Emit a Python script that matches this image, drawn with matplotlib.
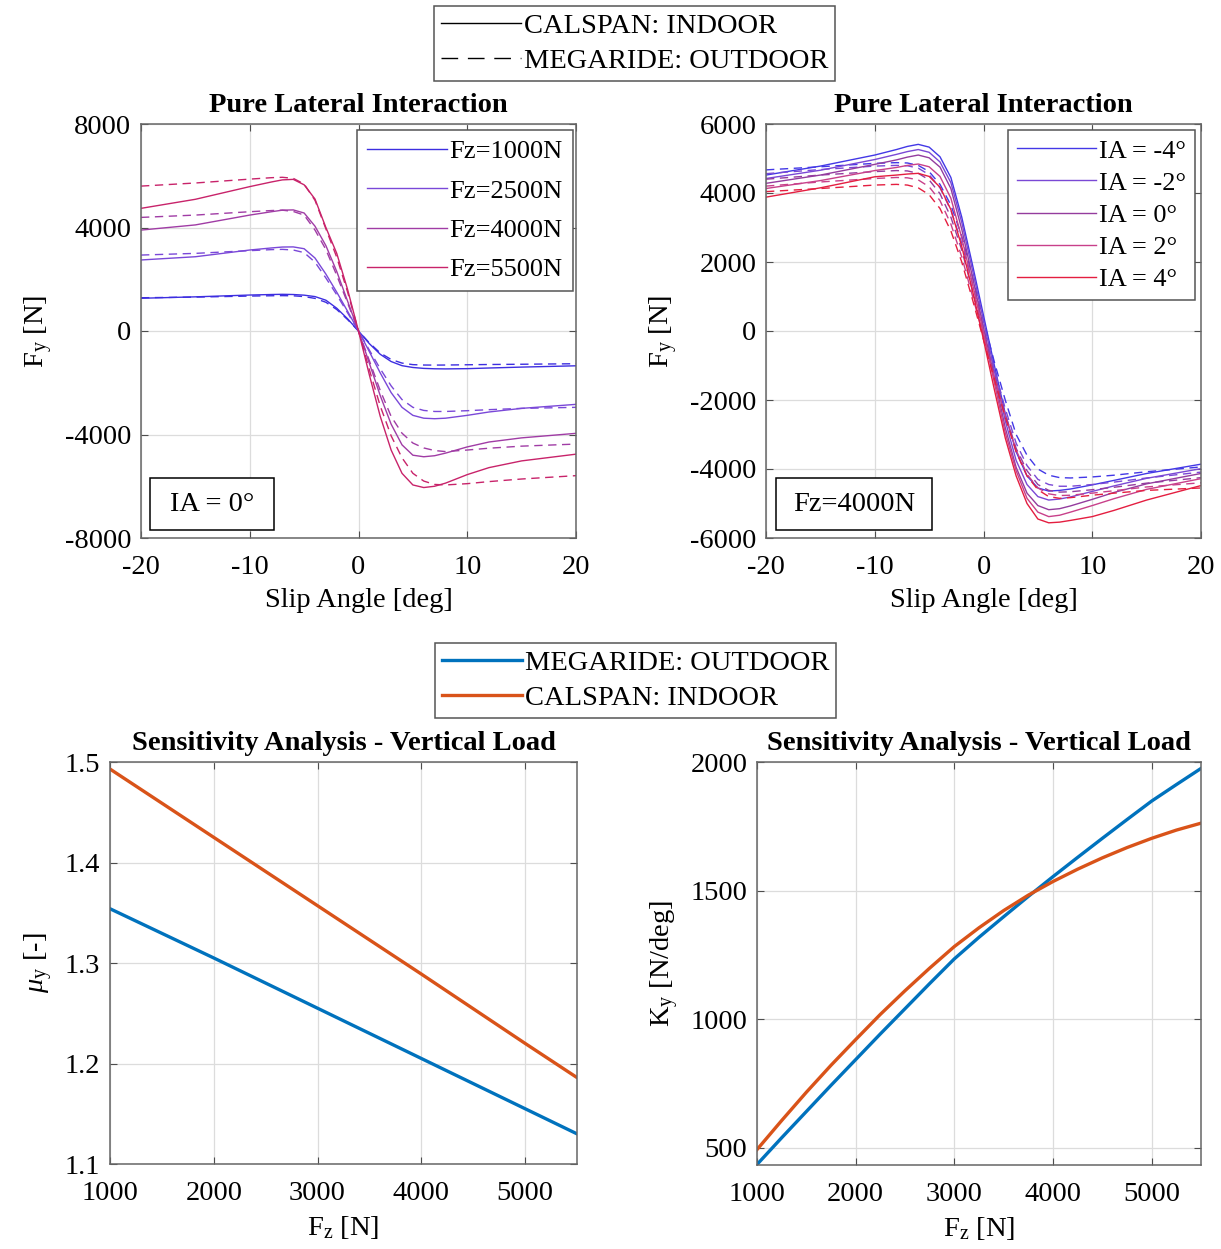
import matplotlib
matplotlib.use('Agg')
import matplotlib.pyplot as plt
from matplotlib.lines import Line2D
from matplotlib.patches import Rectangle

plt.rcParams['font.family'] = ['Liberation Serif', 'DejaVu Serif']
plt.rcParams['mathtext.fontset'] = 'custom'
plt.rcParams['mathtext.rm'] = 'Liberation Serif'
plt.rcParams['mathtext.it'] = 'Liberation Serif:italic'
plt.rcParams['axes.unicode_minus'] = False
FS = 20.5

# ---- data ----
slip = [-20, -15, -10, -8, -7, -6, -5, -4, -3, -2, -1, 0, 1, 2, 3, 4, 5, 6, 7, 8, 10, 12, 15, 20]

# Pure lateral, IA = 0 deg, vertical load sweep (indoor = solid, outdoor = dashed)
fz_labels = ['Fz=1000N', 'Fz=2500N', 'Fz=4000N', 'Fz=5500N']
fy_fz1000_in = [1265, 1320, 1390, 1410, 1418, 1410, 1385, 1330, 1190, 880, 470, 0, -490, -900, -1180, -1340, -1410, -1445, -1460, -1465, -1455, -1430, -1395, -1345]
fy_fz1000_out = [1285, 1310, 1350, 1362, 1366, 1360, 1330, 1260, 1110, 830, 440, 0, -460, -850, -1100, -1240, -1300, -1315, -1318, -1315, -1305, -1295, -1285, -1265]
fy_fz2500_in = [2745, 2870, 3130, 3210, 3245, 3250, 3180, 2820, 2200, 1500, 760, 0, -800, -1620, -2380, -2950, -3260, -3370, -3390, -3370, -3260, -3130, -2990, -2835]
fy_fz2500_out = [2935, 3000, 3105, 3145, 3155, 3130, 3030, 2660, 2050, 1400, 700, 0, -740, -1460, -2120, -2650, -2950, -3070, -3110, -3110, -3080, -3040, -2990, -2950]
fy_fz4000_in = [3900, 4100, 4480, 4610, 4670, 4680, 4560, 4050, 3300, 2300, 1150, 0, -1250, -2500, -3600, -4400, -4800, -4860, -4820, -4720, -4480, -4290, -4130, -3955]
fy_fz4000_out = [4390, 4480, 4610, 4655, 4670, 4620, 4480, 3900, 3150, 2150, 1080, 0, -1150, -2300, -3300, -3950, -4330, -4520, -4620, -4660, -4600, -4530, -4450, -4370]
fy_fz5500_in = [4740, 5090, 5580, 5760, 5840, 5860, 5650, 5100, 4000, 3000, 1600, 0, -1700, -3300, -4600, -5500, -5950, -6050, -6000, -5880, -5550, -5280, -5020, -4760]
fy_fz5500_out = [5600, 5720, 5870, 5925, 5940, 5900, 5680, 5050, 3950, 2850, 1500, 0, -1500, -2900, -4050, -4900, -5500, -5800, -5930, -5950, -5900, -5820, -5720, -5590]

# Pure lateral, Fz = 4000 N, inclination angle sweep
ia_labels = ['IA = -4°', 'IA = -2°', 'IA = 0°', 'IA = 2°', 'IA = 4°']
fy_iam4_in = [4520, 4780, 5100, 5260, 5350, 5410, 5330, 5050, 4450, 3300, 1900, 450, -1000, -2400, -3500, -4200, -4550, -4640, -4620, -4580, -4460, -4330, -4130, -3860]
fy_iam2_in = [4420, 4660, 4970, 5120, 5200, 5260, 5180, 4900, 4300, 3150, 1750, 300, -1150, -2600, -3750, -4450, -4800, -4900, -4870, -4810, -4650, -4490, -4270, -3990]
fy_ia0_in = [4280, 4520, 4830, 4960, 5040, 5100, 5020, 4750, 4130, 2950, 1550, 100, -1350, -2800, -3950, -4700, -5060, -5180, -5150, -5070, -4880, -4680, -4430, -4130]
fy_ia2_in = [4130, 4360, 4650, 4740, 4800, 4840, 4760, 4480, 3850, 2700, 1350, -50, -1500, -2950, -4050, -4850, -5250, -5380, -5340, -5250, -5060, -4860, -4590, -4280]
fy_ia4_in = [3880, 4150, 4470, 4520, 4550, 4570, 4480, 4170, 3520, 2450, 1150, -250, -1700, -3100, -4200, -5000, -5450, -5560, -5540, -5490, -5380, -5200, -4900, -4480]
fy_iam4_out = [4670, 4760, 4860, 4880, 4870, 4800, 4620, 4250, 3650, 2750, 1550, 300, -900, -2000, -3000, -3600, -4000, -4180, -4250, -4260, -4230, -4180, -4080, -3940]
fy_iam2_out = [4560, 4680, 4780, 4800, 4790, 4720, 4530, 4150, 3500, 2550, 1350, 100, -1100, -2250, -3250, -3900, -4300, -4450, -4500, -4500, -4450, -4380, -4260, -4090]
fy_ia0_out = [4400, 4520, 4620, 4650, 4640, 4570, 4380, 3980, 3300, 2350, 1150, -50, -1250, -2400, -3400, -4050, -4450, -4620, -4670, -4660, -4600, -4530, -4410, -4250]
fy_ia2_out = [4200, 4320, 4420, 4450, 4440, 4380, 4180, 3780, 3100, 2150, 1000, -150, -1350, -2450, -3450, -4150, -4550, -4720, -4770, -4760, -4700, -4630, -4520, -4400]
fy_ia4_out = [4040, 4130, 4230, 4250, 4230, 4150, 3950, 3550, 2900, 2000, 900, -250, -1400, -2500, -3500, -4200, -4600, -4800, -4850, -4830, -4760, -4700, -4620, -4550]

# Sensitivity to vertical load
fz_mu = [1000, 2000, 3000, 4000, 5000, 5500]
mu_outdoor = [1.354, 1.305, 1.255, 1.205, 1.155, 1.130]
mu_indoor = [1.493, 1.425, 1.357, 1.289, 1.220, 1.186]
fz = [1000, 1250, 1500, 1750, 2000, 2250, 2500, 2750, 3000, 3250, 3500, 3750, 4000, 4250, 4500, 4750, 5000, 5250, 5500]
ky_outdoor = [434, 538, 640, 742, 842, 942, 1040, 1138, 1234, 1318, 1398, 1477, 1554, 1629, 1703, 1776, 1848, 1912, 1975]
ky_indoor = [492, 605, 715, 820, 920, 1018, 1110, 1198, 1282, 1355, 1422, 1482, 1535, 1583, 1627, 1667, 1703, 1735, 1762]

fz_colors = ['#3d2ee0', '#7a48d8', '#a03ca5', '#c8236a']
ia_colors = ['#4338e6', '#7a48d5', '#943c9e', '#c8408a', '#e41e40']
blue = '#0072BD'
orange = '#D95319'

W, H = 1221, 1249
fig = plt.figure(figsize=(W / 100, H / 100), dpi=100)


def px_axes(x0, y0, x1, y1):
    return fig.add_axes([x0 / W, 1 - y1 / H, (x1 - x0) / W, (y1 - y0) / H])


def style(ax):
    ax.grid(True, color='#dcdcdc', linewidth=0.9)
    ax.set_axisbelow(True)
    ax.tick_params(direction='in', top=True, right=True, length=5,
                   color='#4d4d4d', labelsize=FS)
    ax.tick_params(axis='x', pad=12)
    ax.tick_params(axis='y', pad=7)
    for s in ax.spines.values():
        s.set_color('#666666')
        s.set_linewidth(1.1)


def tag(ax, text, x0, y0, w, h):
    ax.add_patch(Rectangle((x0, y0), w, h, transform=ax.transAxes,
                           facecolor='white', edgecolor='black', linewidth=1.1, zorder=5))
    ax.text(x0 + w / 2, y0 + h / 2, text, transform=ax.transAxes,
            ha='center', va='center', fontsize=FS, zorder=6)


def labels(ax, title, xlab, ylab):
    ax.set_title(title, fontweight='bold', fontsize=FS, pad=9)
    ax.set_xlabel(xlab, fontsize=FS, labelpad=6)
    ax.set_ylabel(ylab, fontsize=FS, labelpad=7)


def inner_legend(ax, colors, names, anchor, spacing, bpad):
    hs = [Line2D([], [], color=c, lw=1.0) for c in colors]
    leg = ax.legend(hs, names, loc='upper right', bbox_to_anchor=anchor,
                    borderaxespad=0, handlelength=3.0, labelspacing=spacing,
                    handletextpad=0.1, fancybox=False, framealpha=1,
                    edgecolor='#555555', fontsize=19, borderpad=bpad)
    leg.get_frame().set_linewidth(1.1)


def outer_legend(handles, names, cx, top):
    leg = fig.legend(handles, names, loc='upper center', bbox_to_anchor=(cx / W, 1 - top / H),
                     borderaxespad=0, handlelength=2.8, labelspacing=0.3, handletextpad=0.1,
                     fancybox=False, framealpha=1, edgecolor='#555555', fontsize=FS,
                     borderpad=0.25)
    leg.get_frame().set_linewidth(1.1)


# ---- top left ----
ax1 = px_axes(141, 124, 576, 538)
tl_in = [fy_fz1000_in, fy_fz2500_in, fy_fz4000_in, fy_fz5500_in]
tl_out = [fy_fz1000_out, fy_fz2500_out, fy_fz4000_out, fy_fz5500_out]
for c, yi, yo in zip(fz_colors, tl_in, tl_out):
    ax1.plot(slip, yi, '-', color=c, lw=1.0)
    ax1.plot(slip, yo, '--', color=c, lw=1.0, dashes=(6, 4))
ax1.set_xlim(-20, 20)
ax1.set_ylim(-8000, 8000)
ax1.set_xticks([-20, -10, 0, 10, 20])
ax1.set_yticks([-8000, -4000, 0, 4000, 8000])
style(ax1)
labels(ax1, 'Pure Lateral Interaction', 'Slip Angle [deg]', r'F$_\mathrm{y}$ [N]')
inner_legend(ax1, fz_colors, fz_labels, (0.992, 0.986), 0.6, 0.38)
tag(ax1, 'IA = 0°', 0.021, 0.019, 0.285, 0.126)

# ---- top right ----
ax2 = px_axes(766, 124, 1201, 538)
tr_in = [fy_iam4_in, fy_iam2_in, fy_ia0_in, fy_ia2_in, fy_ia4_in]
tr_out = [fy_iam4_out, fy_iam2_out, fy_ia0_out, fy_ia2_out, fy_ia4_out]
for c, yi, yo in zip(ia_colors, tr_in, tr_out):
    ax2.plot(slip, yi, '-', color=c, lw=1.0)
    ax2.plot(slip, yo, '--', color=c, lw=1.0, dashes=(6, 4))
ax2.set_xlim(-20, 20)
ax2.set_ylim(-6000, 6000)
ax2.set_xticks([-20, -10, 0, 10, 20])
ax2.set_yticks([-6000, -4000, -2000, 0, 2000, 4000, 6000])
style(ax2)
labels(ax2, 'Pure Lateral Interaction', 'Slip Angle [deg]', r'F$_\mathrm{y}$ [N]')
inner_legend(ax2, ia_colors, ia_labels, (0.986, 0.986), 0.33, 0.35)
tag(ax2, 'Fz=4000N', 0.023, 0.019, 0.359, 0.126)

outer_legend([Line2D([], [], color='black', lw=1.0),
              Line2D([], [], color='black', lw=1.0, ls='--', dashes=(12, 7))],
             ['CALSPAN: INDOOR', 'MEGARIDE: OUTDOOR'], 634.5, 6)

# ---- bottom left ----
ax3 = px_axes(110, 762, 577, 1164)
ax3.plot(fz_mu, mu_outdoor, color=blue, lw=2.4)
ax3.plot(fz_mu, mu_indoor, color=orange, lw=2.4)
ax3.set_xlim(1000, 5500)
ax3.set_ylim(1.1, 1.5)
ax3.set_xticks([1000, 2000, 3000, 4000, 5000])
ax3.set_yticks([1.1, 1.2, 1.3, 1.4, 1.5])
style(ax3)
labels(ax3, 'Sensitivity Analysis - Vertical Load', r'F$_\mathrm{z}$ [N]',
       r'$\mathit{\mu}_\mathrm{y}$ [-]')

# ---- bottom right ----
ax4 = px_axes(757, 762, 1201, 1165)
ax4.plot(fz, ky_outdoor, color=blue, lw=2.4)
ax4.plot(fz, ky_indoor, color=orange, lw=2.4)
ax4.set_xlim(1000, 5500)
ax4.set_ylim(432, 2000)
ax4.set_xticks([1000, 2000, 3000, 4000, 5000])
ax4.set_yticks([500, 1000, 1500, 2000])
style(ax4)
labels(ax4, 'Sensitivity Analysis - Vertical Load', r'F$_\mathrm{z}$ [N]',
       r'K$_\mathrm{y}$ [N/deg]')

outer_legend([Line2D([], [], color=blue, lw=2.4), Line2D([], [], color=orange, lw=2.4)],
             ['MEGARIDE: OUTDOOR', 'CALSPAN: INDOOR'], 635.5, 643)

fig.savefig('out.png', dpi=100)
